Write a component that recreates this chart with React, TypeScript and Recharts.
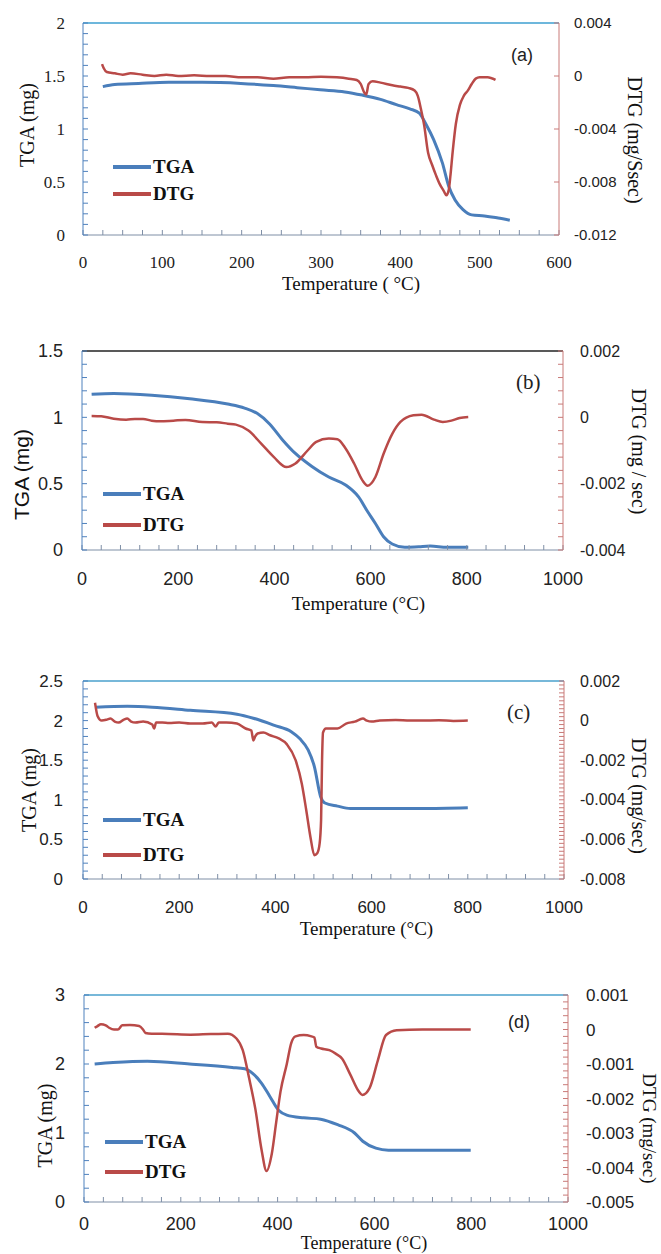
import { Label, Legend, Line, LineChart, ReferenceLine, XAxis, YAxis } from 'recharts';

const SERIF = '"Liberation Serif", "Times New Roman", serif';
const SANS = '"Liberation Sans", Arial, sans-serif';

const TGA_COLOR = '#4a7ebb';
const DTG_COLOR = '#b94a48';
const SERIES_ORDER = ['TGA', 'DTG'];

// (a) temperature in °C, TGA in mg, DTG in mg/s
const aTgaTemp = [25, 40, 70, 108, 150, 199, 240, 270, 299, 330, 352, 375, 395, 412, 424, 432, 442, 453, 461, 469, 479, 490, 506, 520, 538];
const aTgaMass = [1.4, 1.42, 1.43, 1.44, 1.44, 1.43, 1.41, 1.39, 1.37, 1.35, 1.32, 1.28, 1.23, 1.19, 1.15, 1.05, 0.9, 0.68, 0.46, 0.33, 0.24, 0.19, 0.18, 0.165, 0.14];
const aDtgTemp = [24, 26, 30, 40, 50, 60, 75, 90, 105, 120, 140, 160, 180, 200, 220, 240, 260, 280, 300, 320, 335, 345, 350, 355, 357, 360, 365, 375, 390, 400, 410, 418, 422, 426, 430, 435, 440, 445, 450, 455, 458, 461, 463, 466, 470, 475, 480, 485, 490, 495, 500, 510, 520];
const aDtgRate = [0.0009, 0.0006, 0.0003, 0.0002, 0.0001, 0.0002, 0.0001, 0, 0.0001, 0, 0.00005, 0, 0, -0.0001, -0.0001, -0.0002, -0.0001, -0.0001, -0.00005, -0.0001, -0.0002, -0.0003, -0.0006, -0.0013, -0.0014, -0.0006, -0.0004, -0.0005, -0.0007, -0.0008, -0.0009, -0.0011, -0.0015, -0.0025, -0.0037, -0.0058, -0.0067, -0.0075, -0.0082, -0.0087, -0.009, -0.0086, -0.0076, -0.0057, -0.0036, -0.0022, -0.0015, -0.0011, -0.0006, -0.0002, -0.0001, -0.0001, -0.0003];

// (b)
const bTgaTemp = [20, 66, 145, 224, 303, 338, 364, 390, 417, 443, 478, 513, 548, 575, 592, 610, 627, 645, 671, 700, 724, 759, 803];
const bTgaMass = [1.174, 1.18, 1.167, 1.14, 1.1, 1.07, 1.03, 0.95, 0.83, 0.73, 0.63, 0.55, 0.49, 0.4, 0.3, 0.2, 0.1, 0.045, 0.02, 0.025, 0.03, 0.02, 0.02];
const bDtgTemp = [20, 40, 66, 92, 110, 127, 145, 162, 190, 215, 250, 280, 303, 320, 346, 373, 399, 425, 443, 469, 487, 513, 531, 548, 566, 583, 594, 610, 627, 645, 662, 689, 706, 732, 750, 768, 785, 803];
const bDtgRate = [0.00004, 0.00003, -0.00004, -0.00007, -0.00005, -0.00005, -0.0001, -0.00012, -0.0001, -0.00008, -0.00014, -0.00015, -0.00019, -0.00022, -0.0004, -0.0008, -0.0012, -0.0015, -0.0014, -0.001, -0.00074, -0.00064, -0.00066, -0.00094, -0.0014, -0.0019, -0.00206, -0.0018, -0.0011, -0.0005, -0.00014, 0.00006, 0.00008, -0.00007, -0.00014, -0.0001, -0.00002, 0.00001];

// (c)
const cTgaTemp = [26, 92, 144, 223, 320, 354, 398, 433, 451, 468, 481, 494, 503, 529, 556, 617, 704, 800];
const cTgaMass = [2.17, 2.18, 2.17, 2.13, 2.08, 2.03, 1.94, 1.86, 1.77, 1.63, 1.42, 1.04, 0.96, 0.92, 0.89, 0.89, 0.89, 0.9];
const cDtgTemp = [25, 27, 30, 39, 50, 57, 66, 74, 85, 92, 100, 109, 125, 144, 148, 152, 165, 179, 200, 223, 249, 268, 276, 282, 298, 320, 338, 350, 354, 358, 363, 375, 389, 407, 424, 442, 455, 464, 473, 481, 487, 492, 495, 497, 499, 505, 529, 547, 565, 582, 590, 600, 617, 650, 680, 704, 740, 770, 800];
const cDtgRate = [0.0009, 0.0006, 0.00025, 0, 0.00005, 0.0001, -0.00005, -0.0001, 0.00005, 0.0001, -0.00005, -0.0001, -0.00005, -0.0002, -0.0004, -0.0001, -0.0001, -0.00012, -0.0001, -0.00015, -0.00015, -0.0001, -0.0003, -0.0001, -0.0001, -0.00015, -0.0004, -0.0005, -0.001, -0.0008, -0.00065, -0.0006, -0.00074, -0.0009, -0.0012, -0.002, -0.0032, -0.0045, -0.0059, -0.0068, -0.0067, -0.0062, -0.005, -0.002, -0.0006, -0.0004, -0.0004, -0.00015, -0.00005, 0.0001, 0, -0.00005, 0, 0.00003, 0, 0, 0.00002, -0.00002, 0];

// (d)
const dTgaTemp = [22, 60, 131, 218, 306, 332, 349, 367, 384, 402, 419, 454, 489, 524, 559, 576, 603, 629, 699, 799];
const dTgaMass = [2.0, 2.02, 2.04, 2.0, 1.95, 1.93, 1.86, 1.72, 1.53, 1.33, 1.26, 1.22, 1.2, 1.12, 1.0, 0.88, 0.78, 0.75, 0.75, 0.75];
const dDtgTemp = [22, 28, 35, 45, 52, 62, 70, 79, 95, 114, 122, 127, 140, 175, 220, 262, 297, 315, 328, 341, 354, 367, 377, 388, 397, 406, 419, 428, 437, 454, 470, 476, 480, 490, 507, 520, 533, 550, 568, 575, 590, 607, 624, 646, 699, 799];
const dDtgRate = [0.00005, 0.0001, 0.00015, 0.00012, 0.00005, 0, 0, 0.00012, 0.00013, 0.0001, 0, -0.0001, -0.00012, -0.00013, -0.00015, -0.00013, -0.00012, -0.00026, -0.0006, -0.0014, -0.0023, -0.0035, -0.0041, -0.0036, -0.0027, -0.0018, -0.001, -0.0004, -0.0002, -0.00016, -0.0002, -0.00023, -0.0005, -0.00055, -0.0006, -0.0007, -0.00084, -0.0013, -0.0018, -0.0019, -0.0017, -0.0009, -0.00016, -0.00002, 0, 0];

type Point = { t: number; v: number };
const toPoints = (temps: number[], values: number[]): Point[] => temps.map((t, i) => ({ t, v: values[i] }));

const steps = (min: number, max: number, step: number) => {
  const n = Math.round((max - min) / step);
  return Array.from({ length: n + 1 }, (_, i) => Number((min + i * step).toFixed(6)));
};

const majorOnly = (major: number) => (value: number) => {
  const k = value / major;
  return Math.abs(k - Math.round(k)) < 1e-6 ? String(Number(value.toFixed(6))) : '';
};

interface Font {
  family: string;
  size: number;
}

interface PanelProps {
  top: number;
  height: number;
  axisHeight: number;
  leftWidth: number;
  rightWidth: number;
  xMax: number;
  xStep: number;
  xMajor: number;
  tgaMax: number;
  tgaStep: number;
  tgaMajor: number;
  dtgMin: number;
  dtgMax: number;
  dtgStep: number;
  dtgMajor: number;
  tga: Point[];
  dtg: Point[];
  frame: string;
  leftTick: Font;
  bottomTick: Font;
  rightTick: Font;
  bottomMargin: number;
  leftMargin: number;
  rightMargin: number;
  xTitle: string;
  xTitleDx: number;
  xTitleDy: number;
  xTitleSize: number;
  leftTitle: string;
  leftTitleX: number;
  leftTitleDy: number;
  leftTitleFont: Font;
  rightTitle: string;
  rightTitleX: number;
  rightTitleDy: number;
  rightTitleSize: number;
  legendLeft: number;
  legendTop: number;
  legendRow: number;
  tag: string;
  tagX: number;
  tagY: number;
  tagFont: Font;
}

function Panel(p: PanelProps) {
  return (
    <div style={{ position: 'absolute', left: 0, top: p.top, width: 661, height: p.height }}>
      <LineChart width={661} height={p.height} margin={{ top: 23, right: 0, bottom: 0, left: 0 }}>
        <XAxis
          type="number"
          dataKey="t"
          domain={[0, p.xMax]}
          ticks={steps(0, p.xMax, p.xStep)}
          interval={0}
          height={p.axisHeight}
          tickSize={-5}
          tickMargin={p.bottomMargin}
          tickFormatter={majorOnly(p.xMajor)}
          stroke="#7f8fa6"
          tick={{ fill: '#222', fontFamily: p.bottomTick.family, fontSize: p.bottomTick.size }}
          allowDataOverflow
        >
          <Label
            content={({ viewBox }: any) => {
              const vb = viewBox ?? { x: 0, y: 0, width: 0 };
              return (
                <text
                  x={vb.x + vb.width / 2 + p.xTitleDx}
                  y={vb.y + p.xTitleDy}
                  textAnchor="middle"
                  dominantBaseline="central"
                  fontFamily={SERIF}
                  fontSize={p.xTitleSize}
                  fill="#111"
                >
                  {p.xTitle}
                </text>
              );
            }}
          />
        </XAxis>
        <YAxis
          yAxisId="tga"
          orientation="left"
          type="number"
          domain={[0, p.tgaMax]}
          ticks={steps(0, p.tgaMax, p.tgaStep)}
          interval={0}
          width={p.leftWidth}
          tickSize={-5}
          tickMargin={p.leftMargin}
          tickFormatter={majorOnly(p.tgaMajor)}
          stroke="#4f81bd"
          tick={{ fill: '#222', fontFamily: p.leftTick.family, fontSize: p.leftTick.size }}
          allowDataOverflow
        >
          <Label
            content={({ viewBox }: any) => {
              const vb = viewBox ?? { y: 0, height: 0 };
              const cy = vb.y + vb.height / 2 + p.leftTitleDy;
              return (
                <text
                  x={p.leftTitleX}
                  y={cy}
                  transform={`rotate(-90 ${p.leftTitleX} ${cy})`}
                  textAnchor="middle"
                  dominantBaseline="central"
                  fontFamily={p.leftTitleFont.family}
                  fontSize={p.leftTitleFont.size}
                  fill="#111"
                >
                  {p.leftTitle}
                </text>
              );
            }}
          />
        </YAxis>
        <YAxis
          yAxisId="dtg"
          orientation="right"
          type="number"
          domain={[p.dtgMin, p.dtgMax]}
          ticks={steps(p.dtgMin, p.dtgMax, p.dtgStep)}
          interval={0}
          width={p.rightWidth}
          tickSize={-5}
          tickMargin={p.rightMargin}
          tickFormatter={majorOnly(p.dtgMajor)}
          stroke="#c97a78"
          tick={{ fill: '#222', fontFamily: p.rightTick.family, fontSize: p.rightTick.size }}
          allowDataOverflow
        >
          <Label
            content={({ viewBox }: any) => {
              const vb = viewBox ?? { y: 0, height: 0 };
              const cy = vb.y + vb.height / 2 + p.rightTitleDy;
              return (
                <text
                  x={p.rightTitleX}
                  y={cy}
                  transform={`rotate(90 ${p.rightTitleX} ${cy})`}
                  textAnchor="middle"
                  dominantBaseline="central"
                  fontFamily={SERIF}
                  fontSize={p.rightTitleSize}
                  fill="#111"
                >
                  {p.rightTitle}
                </text>
              );
            }}
          />
        </YAxis>
        <ReferenceLine yAxisId="tga" y={p.tgaMax} stroke={p.frame} strokeWidth={1.5} />
        <Line
          data={p.tga}
          yAxisId="tga"
          dataKey="v"
          name="TGA"
          type="monotone"
          stroke={TGA_COLOR}
          strokeWidth={3}
          dot={false}
          isAnimationActive={false}
        />
        <Line
          data={p.dtg}
          yAxisId="dtg"
          dataKey="v"
          name="DTG"
          type="monotone"
          stroke={DTG_COLOR}
          strokeWidth={2.5}
          dot={false}
          isAnimationActive={false}
        />
        <Legend
          layout="horizontal"
          verticalAlign="middle"
          align="center"
          wrapperStyle={{ left: p.legendLeft, top: p.legendTop, width: 120 }}
          content={({ payload }: any) => {
            const items = [...(payload ?? [])].sort(
              (a: any, b: any) => SERIES_ORDER.indexOf(a.value) - SERIES_ORDER.indexOf(b.value),
            );
            return (
              <div>
                {items.map((entry: any) => (
                  <div key={entry.value} style={{ display: 'flex', alignItems: 'center', height: p.legendRow }}>
                    <span
                      style={{ display: 'inline-block', width: 38, height: 4, background: entry.color, marginRight: 2 }}
                    />
                    <span style={{ fontFamily: SERIF, fontWeight: 700, fontSize: 19, color: '#111' }}>{entry.value}</span>
                  </div>
                ))}
              </div>
            );
          }}
        />
      </LineChart>
      <div
        style={{
          position: 'absolute',
          left: p.tagX,
          top: p.tagY,
          transform: 'translateY(-50%)',
          fontFamily: p.tagFont.family,
          fontSize: p.tagFont.size,
          color: '#222',
          lineHeight: 1,
        }}
      >
        {p.tag}
      </div>
    </div>
  );
}

export default function App() {
  return (
    <div style={{ position: 'absolute', left: 0, top: 0, width: 661, height: 1254, background: '#fff' }}>
      <Panel
        top={0}
        height={300}
        axisHeight={65}
        leftWidth={83}
        rightWidth={102}
        xMax={600}
        xStep={25}
        xMajor={100}
        tgaMax={2}
        tgaStep={0.1}
        tgaMajor={0.5}
        dtgMin={-0.012}
        dtgMax={0.004}
        dtgStep={0.004}
        dtgMajor={0.004}
        tga={toPoints(aTgaTemp, aTgaMass)}
        dtg={toPoints(aDtgTemp, aDtgRate)}
        frame="#3d9fd0"
        leftTick={{ family: SERIF, size: 17 }}
        bottomTick={{ family: SERIF, size: 17 }}
        rightTick={{ family: SANS, size: 15 }}
        bottomMargin={26}
        leftMargin={23}
        rightMargin={20}
        xTitle="Temperature ( °C)"
        xTitleDx={30}
        xTitleDy={48}
        xTitleSize={19}
        leftTitle="TGA (mg)"
        leftTitleX={27}
        leftTitleDy={-4}
        leftTitleFont={{ family: SERIF, size: 20 }}
        rightTitle="DTG (mg/Ssec)"
        rightTitleX={635}
        rightTitleDy={11}
        rightTitleSize={20}
        legendLeft={113}
        legendTop={153}
        legendRow={27}
        tag="(a)"
        tagX={511}
        tagY={55}
        tagFont={{ family: SANS, size: 18 }}
      />
      <Panel
        top={328}
        height={292}
        axisHeight={70}
        leftWidth={82}
        rightWidth={98}
        xMax={1000}
        xStep={40}
        xMajor={200}
        tgaMax={1.5}
        tgaStep={0.1}
        tgaMajor={0.5}
        dtgMin={-0.004}
        dtgMax={0.002}
        dtgStep={0.0004}
        dtgMajor={0.002}
        tga={toPoints(bTgaTemp, bTgaMass)}
        dtg={toPoints(bDtgTemp, bDtgRate)}
        frame="#222"
        leftTick={{ family: SANS, size: 18 }}
        bottomTick={{ family: SANS, size: 18 }}
        rightTick={{ family: SANS, size: 16 }}
        bottomMargin={27}
        leftMargin={24}
        rightMargin={22}
        xTitle="Temperature (°C)"
        xTitleDx={36}
        xTitleDy={53}
        xTitleSize={19}
        leftTitle="TGA (mg)"
        leftTitleX={21}
        leftTitleDy={24}
        leftTitleFont={{ family: SANS, size: 21 }}
        rightTitle="DTG (mg / sec)"
        rightTitleX={639}
        rightTitleDy={1}
        rightTitleSize={20}
        legendLeft={103}
        legendTop={150}
        legendRow={31}
        tag="(b)"
        tagX={516}
        tagY={54}
        tagFont={{ family: SERIF, size: 21 }}
      />
      <Panel
        top={658}
        height={291}
        axisHeight={70}
        leftWidth={83}
        rightWidth={97}
        xMax={1000}
        xStep={40}
        xMajor={200}
        tgaMax={2.5}
        tgaStep={0.1}
        tgaMajor={0.5}
        dtgMin={-0.008}
        dtgMax={0.002}
        dtgStep={0.0002}
        dtgMajor={0.002}
        tga={toPoints(cTgaTemp, cTgaMass)}
        dtg={toPoints(cDtgTemp, cDtgRate)}
        frame="#4aa0cc"
        leftTick={{ family: SANS, size: 17 }}
        bottomTick={{ family: SANS, size: 17 }}
        rightTick={{ family: SANS, size: 16 }}
        bottomMargin={27}
        leftMargin={25}
        rightMargin={21}
        xTitle="Temperature (°C)"
        xTitleDx={43}
        xTitleDy={49}
        xTitleSize={19}
        leftTitle="TGA (mg)"
        leftTitleX={29}
        leftTitleDy={10}
        leftTitleFont={{ family: SERIF, size: 20 }}
        rightTitle="DTG (mg/sec)"
        rightTitleX={639}
        rightTitleDy={16}
        rightTitleSize={20}
        legendLeft={103}
        legendTop={144}
        legendRow={35}
        tag="(c)"
        tagX={507}
        tagY={54}
        tagFont={{ family: SERIF, size: 21 }}
      />
      <Panel
        top={972}
        height={282}
        axisHeight={52}
        leftWidth={84}
        rightWidth={93}
        xMax={1000}
        xStep={40}
        xMajor={200}
        tgaMax={3}
        tgaStep={0.2}
        tgaMajor={1}
        dtgMin={-0.005}
        dtgMax={0.001}
        dtgStep={0.0002}
        dtgMajor={0.001}
        tga={toPoints(dTgaTemp, dTgaMass)}
        dtg={toPoints(dDtgTemp, dDtgRate)}
        frame="#4aa0cc"
        leftTick={{ family: SANS, size: 18 }}
        bottomTick={{ family: SANS, size: 18 }}
        rightTick={{ family: SANS, size: 17 }}
        bottomMargin={20}
        leftMargin={24}
        rightMargin={23}
        xTitle="Temperature (°C)"
        xTitleDx={38}
        xTitleDy={41}
        xTitleSize={18}
        leftTitle="TGA (mg)"
        leftTitleX={45}
        leftTitleDy={27}
        leftTitleFont={{ family: SERIF, size: 20 }}
        rightTitle="DTG (mg/sec)"
        rightTitleX={649}
        rightTitleDy={30}
        rightTitleSize={19}
        legendLeft={105}
        legendTop={155}
        legendRow={30}
        tag="(d)"
        tagX={508}
        tagY={50}
        tagFont={{ family: SANS, size: 18 }}
      />
    </div>
  );
}
